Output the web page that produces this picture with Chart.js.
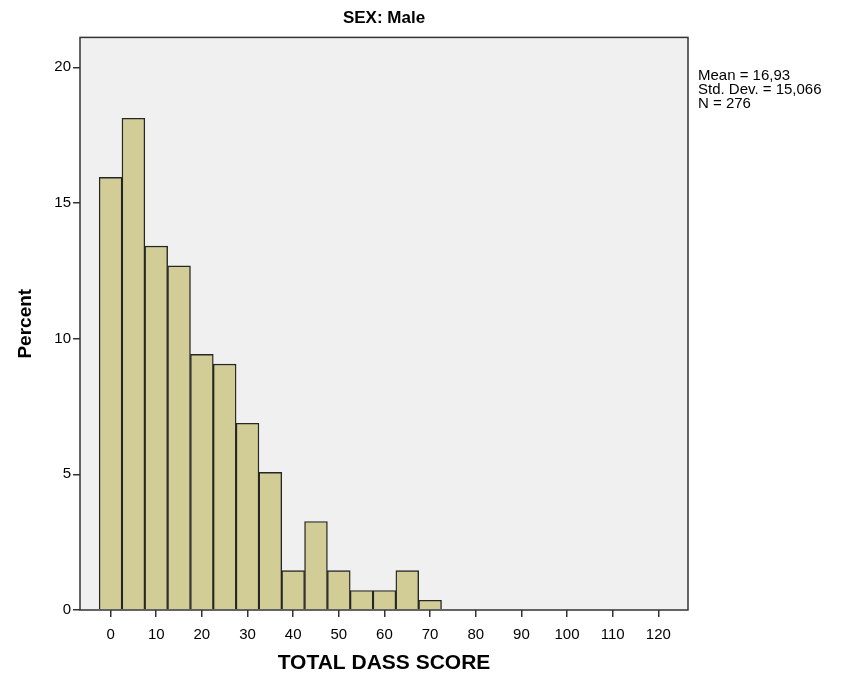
<!DOCTYPE html>
<html>
<head>
<meta charset="utf-8">
<script src="https://cdn.jsdelivr.net/npm/chart.js@4"></script>
<style>
  html, body { margin: 0; padding: 0; background: #fff; }
  #wrap { width: 846px; height: 680px; }
</style>
</head>
<body>
<div id="wrap"><canvas id="histChart" width="846" height="680"></canvas></div>
<script>
// Histogram of TOTAL DASS SCORE, males (bin centres, percent)
const binCentres = [0, 5, 10, 15, 20, 25, 30, 35, 40, 45, 50, 55, 60, 65, 70];
const percentValues = [15.94, 18.12, 13.41, 12.68, 9.42, 9.06, 6.88, 5.07, 1.45, 3.26, 1.45, 0.72, 0.72, 1.45, 0.36];
const xTicks = [0, 10, 20, 30, 40, 50, 60, 70, 80, 90, 100, 110, 120];
const yTicks = [0, 5, 10, 15, 20];
const statsLines = ["Mean = 16,93", "Std. Dev. = 15,066", "N = 276"];

const FONT = "'Liberation Sans', Arial, sans-serif";

// plot background + frame, and the stats text on the right
const framePlugin = {
  id: "frame",
  beforeDraw(chart) {
    const { ctx, chartArea: a } = chart;
    ctx.save();
    ctx.fillStyle = "#f0f0f0";
    ctx.fillRect(a.left, a.top, a.right - a.left, a.bottom - a.top);
    ctx.restore();
  },
  afterDraw(chart) {
    const { ctx, chartArea: a } = chart;
    ctx.save();
    ctx.strokeStyle = "#333";
    ctx.lineWidth = 1.5;
    ctx.strokeRect(a.left, a.top, a.right - a.left, a.bottom - a.top);
    ctx.fillStyle = "#000";
    ctx.font = "15px " + FONT;
    ctx.textBaseline = "middle";
    statsLines.forEach((t, i) => ctx.fillText(t, a.right + 10, 76 + i * 14));
    ctx.restore();
  }
};

new Chart(document.getElementById("histChart"), {
  type: "bar",
  data: {
    datasets: [{
      data: binCentres.map((c, i) => ({ x: c, y: percentValues[i] })),
      backgroundColor: "#d2cd96",
      borderColor: "#262626",
      borderWidth: 1.4,
      barPercentage: 1,
      categoryPercentage: 1
    }]
  },
  options: {
    responsive: false,
    animation: false,
    layout: { padding: { left: 0, right: 158, top: 0, bottom: 0 } },
    plugins: {
      legend: { display: false },
      tooltip: { enabled: false },
      title: {
        display: true,
        text: "SEX: Male",
        fullSize: false,
        color: "#000",
        font: { family: FONT, size: 17, weight: "bold" },
        padding: { top: 8, bottom: 9 }
      }
    },
    scales: {
      x: {
        type: "linear",
        offset: false,
        min: -6.7,
        max: 126.5,
        afterBuildTicks: s => { s.ticks = xTicks.map(v => ({ value: v })); },
        afterFit: s => { s.height = 70; },
        grid: { offset: false, drawOnChartArea: false, drawTicks: true, tickLength: 7, color: "#333", lineWidth: 1.5 },
        border: { display: false },
        ticks: { color: "#000", font: { family: FONT, size: 15 }, padding: 9, maxRotation: 0, autoSkip: false },
        title: {
          display: true,
          text: "TOTAL DASS SCORE",
          color: "#000",
          font: { family: FONT, size: 21, weight: "bold" },
          padding: { top: 0, bottom: 4 }
        }
      },
      y: {
        min: 0,
        max: 21.1,
        afterBuildTicks: s => { s.ticks = yTicks.map(v => ({ value: v })); },
        afterFit: s => { s.width = 80; },
        grid: { drawOnChartArea: false, drawTicks: true, tickLength: 7, color: "#333", lineWidth: 1.5 },
        border: { display: false },
        ticks: { color: "#000", font: { family: FONT, size: 15 }, padding: 2 },
        title: {
          display: true,
          text: "Percent",
          color: "#000",
          font: { family: FONT, size: 19, weight: "bold" },
          padding: { top: 14, bottom: 0 }
        }
      }
    }
  },
  plugins: [framePlugin]
});
</script>
</body>
</html>
